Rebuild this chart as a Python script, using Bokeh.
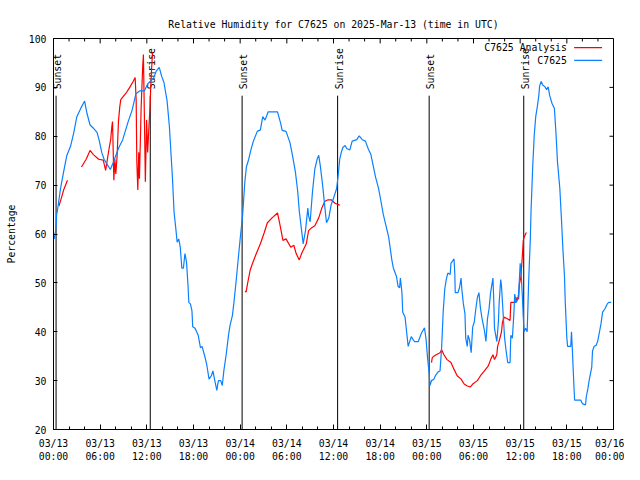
import math
from bokeh.plotting import figure
from bokeh.models import Range1d, FixedTicker, ColumnDataSource
from bokeh.core.properties import value
from bokeh.embed import file_html
from bokeh.resources import INLINE

FONT = "DejaVu Sans Mono"
FS = "9.8px"

TITLE = "Relative Humidity for C7625 on 2025-Mar-13 (time in UTC)"
Y_LABEL = "Percentage"

# hours since 2025-03-13 00:00 UTC
TICK_HOURS = [0, 6, 12, 18, 24, 30, 36, 42, 48, 54, 60, 66, 72]
TICK_LABELS = ["03/13\n00:00", "03/13\n06:00", "03/13\n12:00", "03/13\n18:00",
               "03/14\n00:00", "03/14\n06:00", "03/14\n12:00", "03/14\n18:00",
               "03/15\n00:00", "03/15\n06:00", "03/15\n12:00", "03/15\n18:00",
               "03/16\n00:00"]
MINOR_HOURS = [h for h in range(0, 73, 2) if h % 6 != 0]
Y_TICKS = [20, 30, 40, 50, 60, 70, 80, 90, 100]
X_MIN, X_MAX, Y_MIN, Y_MAX = 0, 72, 20, 100

SUN_HOURS = [0.33, 12.44, 24.25, 36.53, 48.3, 60.46]
SUN_NAMES = ["Sunset", "Sunrise", "Sunset", "Sunrise", "Sunset", "Sunrise"]

# observed C7625
obs_hours = [0.1, 0.3, 0.4, 0.5, 0.9, 1.3, 1.7, 2.2, 2.6, 3.0, 3.5, 4.0, 4.3, 4.7, 5.1, 5.6,
             5.9, 6.2, 6.5, 6.8, 7.3, 7.7, 8.0, 8.4, 8.9, 9.6, 10.1, 10.6, 11.1, 11.7, 12.1,
             12.5, 12.9, 13.2, 13.6, 13.9, 14.2, 14.6, 14.9, 15.3, 15.5, 15.7, 15.9, 16.1,
             16.3, 16.5, 16.7, 16.9, 17.1, 17.3, 17.4, 17.6, 17.8, 17.9, 18.2, 18.6, 18.9,
             19.1, 19.4, 19.7, 20.0, 20.3, 20.5, 20.7, 21.0, 21.2, 21.5, 21.7, 21.9, 22.2,
             22.5, 22.7, 23.0, 23.2, 23.5, 23.8, 24.0, 24.3, 24.6, 24.8, 25.1, 25.4, 25.7,
             26.2, 26.6, 26.9, 27.2, 27.6, 28.8, 29.2, 29.4, 29.9, 30.4, 30.7, 31.1, 31.4,
             31.6, 31.9, 32.1, 32.4, 32.7, 32.8, 33.0, 33.3, 33.6, 33.9, 34.1, 34.3, 34.6,
             34.9, 35.1, 35.4, 35.7, 36.0, 36.4, 36.6, 36.8, 37.0, 37.2, 37.5, 37.7, 38.1,
             38.4, 39.0, 39.3, 39.7, 40.1, 40.5, 40.8, 41.1, 41.4, 41.8, 42.1, 42.4, 42.7,
             43.1, 43.5, 43.7, 44.1, 44.3, 44.5, 44.6, 44.8, 44.9, 45.2, 45.4, 45.6, 46.0,
             46.4, 46.9, 47.3, 47.7, 47.9, 48.1, 48.3, 48.4, 48.6, 48.9, 49.1, 49.4, 49.7,
             49.9, 50.1, 50.3, 50.5, 50.7, 51.0, 51.1, 51.5, 51.6, 51.65, 52.0, 52.2, 52.4,
             52.5, 52.7, 52.9, 53.0, 53.2, 53.3, 53.5, 53.7, 53.9, 54.1, 54.3, 54.5, 54.7,
             54.9, 55.1, 55.4, 55.6, 55.8, 56.0, 56.2, 56.4, 56.5, 56.6, 56.7, 57.0, 57.2,
             57.3, 57.5, 57.6, 57.8, 58.0, 58.2, 58.4, 58.7, 58.8, 59.0, 59.2, 59.3, 59.5,
             59.7, 59.8, 59.9, 60.0, 60.1, 60.3, 60.4, 60.5, 60.7, 60.9, 61.1, 61.3, 61.4,
             61.6, 61.8, 62.0, 62.2, 62.4, 62.5, 62.7, 62.9, 63.2, 63.4, 63.6, 63.8, 64.1,
             64.4, 64.6, 64.8, 65.1, 65.3, 65.5, 65.7, 65.8, 66.0, 66.1, 66.5, 66.6, 66.7,
             66.9, 67.0, 67.8, 68.0, 68.4, 68.5, 68.7, 68.9, 69.2, 69.3, 69.5, 69.8, 70.0,
             70.2, 70.4, 70.6, 70.9, 71.2, 71.4, 71.7]
obs_rh = [59, 61, 64, 64.7, 69.3, 72.7, 76, 78, 80.7, 84, 85.7, 87.2, 84.7, 82.3, 81.7, 80.8,
          79, 76.7, 75.3, 74.5, 73.2, 74.7, 76, 77.7, 79.3, 83, 85.3, 88.7, 89.3, 89.3, 90.7,
          91.3, 92, 93.3, 94.1, 92.3, 91, 87.3, 82, 71.3, 64.5, 61.5, 58.3, 59,
          57.3, 53, 53, 56, 54.3, 49.3, 46, 45.7, 44.3, 41, 40.7, 39.3, 36.7,
          37, 35.3, 33.3, 30.3, 31, 32, 30.3, 28, 30, 30, 29, 32, 35.3,
          39.3, 41.3, 43.3, 46, 50.7, 55.7, 59, 63.5, 70.7, 73.7, 75.3, 77.3, 79,
          81, 81.3, 84, 83.3, 85, 85, 82.7, 81.2, 81, 78.7, 76.3, 72.7, 68.7,
          64.7, 60.7, 58, 60.7, 65.3, 63.7, 62.5, 68.7, 73.3, 75.3, 76.1, 74, 70,
          65.3, 62.3, 63.3, 66, 67.3, 69.3, 72, 75.3, 76.7, 77.7, 78.1, 77.5, 77.2,
          79, 79.3, 80.1, 79.3, 79, 77.3, 76.3, 74, 71.7, 69.3, 66.7, 64, 62,
          59.3, 54.7, 53, 51.3, 49.3, 49, 51, 48, 44, 43, 40, 37, 39,
          38, 38, 39.7, 40.8, 38.5, 34.5, 31.5, 29, 30, 30.3, 31, 31.7, 32,
          36.7, 44, 48.7, 50.7, 52, 51.7, 54, 54.9, 51.7, 48, 48, 49, 51,
          48.7, 45.7, 43.7, 38.7, 37, 39.3, 38.3, 35.7, 41, 42, 44.7, 47, 48,
          44.7, 42.7, 40.3, 38, 42.7, 44.7, 48, 50, 51, 46.7, 40.7, 38, 42,
          46, 50.7, 49.3, 44, 38.7, 36, 33.7, 33.7, 39.3, 38.7, 44, 47.7, 46,
          46.7, 48, 50.7, 54, 52.7, 46.7, 43, 40, 40.7, 40, 50.7, 58.7, 64.7,
          73.3, 80, 84, 86, 88.3, 90.3, 91.2, 90.5, 90.1, 89.5, 90.1, 88.3, 86.7,
          85.7, 80.7, 74.7, 69.3, 63.3, 56.7, 51.3, 46, 38.7, 37, 37, 40, 36.7,
          29.3, 26, 26, 25.3, 25, 26.7, 28.3, 30.3, 32.7, 36, 37, 37.3, 38.3,
          40, 41.7, 44, 44.7, 45.7, 46, 46]

# analysis (NaN separates the gaps)
NAN = float("nan")
ana_hours = [0.7, 1.0, 1.3, 1.8, NAN,
             3.6, 4.2, 4.7, 5.1, 5.8, 6.4, 6.7, 6.9, 7.2, 7.35, 7.5, 7.59, 7.76, 7.89, 8.01,
             8.18, 8.35, 8.52, 8.65, 8.9, 9.4, 9.8, 10.2, 10.5, 10.63, 10.71, 10.84, 10.96,
             11.05, 11.27, 11.47, 11.56, 11.68, 11.81, 11.97, 12.10, 12.23, 12.41, 12.53,
             12.73, NAN,
             24.63, 24.76, 24.97, 25.3, 25.6, 26.0, 26.6, 27.1, 27.5, 28.1, 28.8, 29.1, 29.5,
             29.9, 30.5, 30.9, 31.2, 31.6, 31.9, 32.5, 32.8, 33.2, 33.6, 34.1, 34.5, 34.9,
             35.3, 35.7, 36.2, 36.8, NAN,
             48.6, 48.7, 48.9, 49.2, 49.7, 49.9, 50.2, 50.6, 51.1, 51.5, 51.9, 52.4, 52.8,
             53.2, 53.6, 53.9, 54.5, 54.9, 55.4, 55.9, 56.2, 56.5, 56.7, 57.0, 57.1, 57.4,
             57.6, 57.7, 57.9, 58.3, 58.7, 58.8, 59.4, 59.6, 59.8, 59.9, 60.1, 60.3, 60.4,
             60.5, 60.7, 60.8]
ana_rh = [65.7, 67.3, 69, 71, NAN,
          73.7, 75.3, 77.1, 76.3, 75.3, 75.1, 73, 75, 78, 79.3, 82, 83, 71, 75.3, 72.3,
          76, 83, 86, 87.5, 88, 89, 90, 91.1, 92, 87.3, 75, 69, 76.7,
          71.3, 86, 94.3, 96.7, 84.7, 70.7, 83.3, 76.7, 80.7, 86, 91.3,
          97.2, NAN,
          48.3, 48.1, 50, 52.7, 54, 55.7, 58, 60.3, 62.3, 63.3, 64.3, 62, 58.7,
          59, 57.3, 57.7, 56, 54.7, 56, 58, 60.7, 61.3, 61.7, 63.3, 65.3, 66.7,
          67, 67, 66.3, 65.9, NAN,
          33.7, 34.7, 35, 35.3, 35.7, 36.3, 35.3, 34.3, 33.7, 32.3, 31, 30.3, 29.3,
          28.9, 28.7, 29.3, 30, 31, 32, 33, 34.3, 35.3, 34.3, 35.3, 37, 38.7,
          40, 41.7, 43, 42.7, 42.3, 46, 46, 47, 46.7, 49.7, 51.3, 56, 58.7,
          59.3, 60, 60.3]

RED = "#ff0000"
BLUE = "#0a80ff"

FRAME_W, FRAME_H = 560.0, 394.0

p = figure(width=624, height=464, x_range=Range1d(X_MIN, X_MAX),
           y_range=Range1d(Y_MIN, Y_MAX),
           output_backend="svg", toolbar_location=None,
           min_border_left=53, min_border_right=11, min_border_top=38, min_border_bottom=32)
p.background_fill_color = "white"
p.border_fill_color = "white"
p.outline_line_color = "black"
p.outline_line_width = 1
p.xgrid.visible = False
p.ygrid.visible = False

p.title.text = TITLE
p.title.align = "center"
p.title.text_font = FONT
p.title.text_font_size = FS
p.title.text_font_style = "normal"
p.title.text_color = "black"
p.title.standoff = 18

xt = FixedTicker(ticks=TICK_HOURS, minor_ticks=MINOR_HOURS)
yt = FixedTicker(ticks=Y_TICKS, minor_ticks=[])


def style_axis(ax):
    ax.axis_line_color = "black"
    ax.major_tick_line_color = "black"
    ax.minor_tick_line_color = "black"
    ax.major_tick_out = 0
    ax.minor_tick_out = 0
    ax.major_label_text_font = FONT
    ax.major_label_text_font_size = FS
    ax.major_label_text_color = "black"


xa = p.xaxis[0]
xa.ticker = xt
xa.major_label_overrides = {h: s for h, s in zip(TICK_HOURS, TICK_LABELS)}
style_axis(xa)
xa.major_tick_in = 5
xa.minor_tick_in = 3
xa.major_label_standoff = 8

ya = p.yaxis[0]
ya.ticker = yt
style_axis(ya)
ya.major_tick_in = 4
ya.minor_tick_in = 0
ya.major_label_standoff = 7
ya.axis_label = Y_LABEL
ya.axis_label_text_font = FONT
ya.axis_label_text_font_size = FS
ya.axis_label_text_font_style = "normal"
ya.axis_label_text_color = "black"
ya.axis_label_standoff = 9

# mirrored ticks on the top and right frame edges (lengths in pixels -> data units)
px_x = (X_MAX - X_MIN) / FRAME_W
px_y = (Y_MAX - Y_MIN) / FRAME_H
p.segment(x0=[X_MAX] * len(Y_TICKS), y0=Y_TICKS,
          x1=[X_MAX - 4 * px_x] * len(Y_TICKS), y1=Y_TICKS, line_color="black", line_width=1)
p.segment(x0=TICK_HOURS, y0=[Y_MAX] * len(TICK_HOURS),
          x1=TICK_HOURS, y1=[Y_MAX - 5 * px_y] * len(TICK_HOURS), line_color="black",
          line_width=1)
p.segment(x0=MINOR_HOURS, y0=[Y_MAX] * len(MINOR_HOURS),
          x1=MINOR_HOURS, y1=[Y_MAX - 3 * px_y] * len(MINOR_HOURS), line_color="black",
          line_width=1)

# sunrise / sunset markers
sun = ColumnDataSource(dict(x=SUN_HOURS, y0=[Y_MIN] * len(SUN_HOURS),
                            y1=[88.3] * len(SUN_HOURS), y_txt=[89.6] * len(SUN_HOURS),
                            name=SUN_NAMES))
p.segment(x0="x", y0="y0", x1="x", y1="y1", source=sun, line_color="black", line_width=1)
p.text(x="x", y="y_txt", text="name", source=sun, angle=math.pi / 2,
       text_align="left", text_baseline="middle", x_offset=1.5,
       text_font=value(FONT), text_font_size=value(FS), text_color="black")

p.line(ana_hours, ana_rh, line_color=RED, line_width=1.2)
p.line(obs_hours, obs_rh, line_color=BLUE, line_width=1.2)

# legend (text on the left, sample on the right, as in the original)
LEG_TEXT_X = 66.0
LEG_LINE_X0, LEG_LINE_X1 = 66.94, 70.53
LEG_Y = [98.14, 95.54]
LEG_NAMES = ["C7625 Analysis", "C7625"]
LEG_COLORS = [RED, BLUE]
p.text(x=[LEG_TEXT_X] * 2, y=LEG_Y, text=LEG_NAMES, text_align="right",
       text_baseline="middle", text_font=value(FONT), text_font_size=value(FS),
       text_color="black")
p.segment(x0=[LEG_LINE_X0] * 2, y0=LEG_Y, x1=[LEG_LINE_X1] * 2, y1=LEG_Y,
          line_color=LEG_COLORS, line_width=1.2)

open("out.html", "w").write(file_html(p, INLINE))
